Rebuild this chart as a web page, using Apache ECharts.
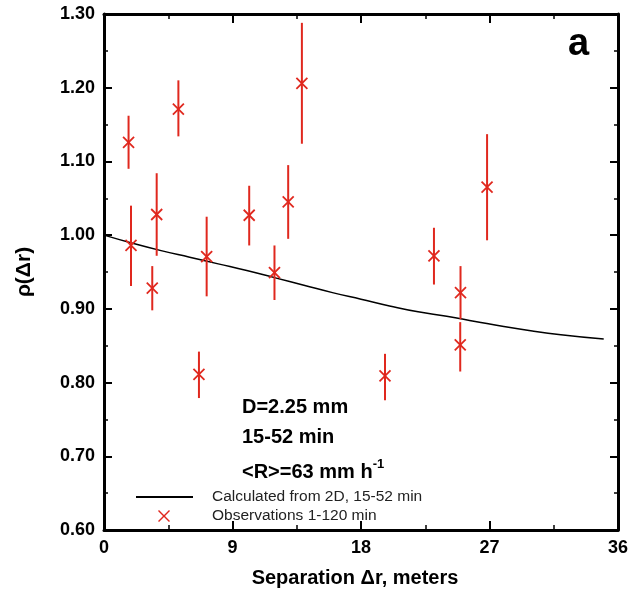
<!DOCTYPE html>
<html>
<head>
<meta charset="utf-8">
<script src="https://cdn.jsdelivr.net/npm/echarts@6/dist/echarts.min.js"></script>
<style>
html,body{margin:0;padding:0;background:#fff;}
#chart{width:643px;height:594px;}
</style>
</head>
<body>
<div id="chart"></div>
<script>
// ---- data ----
var obsX    = [1.72, 1.89, 3.38, 3.69, 5.21, 6.65, 7.19, 10.17, 11.94, 12.9, 13.86, 19.68, 23.11, 24.97, 24.95, 26.83];
var obsY    = [1.126, 0.986, 0.928, 1.028, 1.171, 0.811, 0.971, 1.027, 0.949, 1.045, 1.206, 0.809, 0.972, 0.922, 0.851, 1.065];
var obsLow  = [1.090, 0.931, 0.898, 0.972, 1.134, 0.779, 0.917, 0.986, 0.912, 0.995, 1.124, 0.776, 0.933, 0.886, 0.815, 0.993];
var obsHigh = [1.162, 1.040, 0.958, 1.084, 1.210, 0.842, 1.025, 1.067, 0.986, 1.095, 1.288, 0.839, 1.010, 0.958, 0.882, 1.137];

var curveX = [0, 2, 4, 6, 8, 10, 12, 14, 16, 18, 20, 22, 24, 26, 28, 30, 32, 35];
var curveY = [1.000, 0.989, 0.979, 0.970, 0.961, 0.952, 0.942, 0.932, 0.922, 0.913, 0.904, 0.896, 0.890, 0.883, 0.876, 0.870, 0.865, 0.859];

var xTickLabels = ['0', '9', '18', '27', '36'];
var yTickLabels = ['0.60', '0.70', '0.80', '0.90', '1.00', '1.10', '1.20', '1.30'];

var lineName = 'Calculated from 2D, 15-52 min';
var obsName = 'Observations 1-120 min';
var annotations = ['D=2.25 mm', '15-52 min', '<R>=63 mm h', '-1'];

var RED = '#e0281e';
var FONT = '"Liberation Sans", Arial, sans-serif';

var chart = echarts.init(document.getElementById('chart'));

var obsData = obsX.map(function (x, i) { return [x, obsY[i], obsLow[i], obsHigh[i]]; });
var curveData = curveX.map(function (x, i) { return [x, curveY[i]]; });

var axisLineCommon = { show: true, onZero: false, lineStyle: { color: '#000', width: 3 } };
function ticks(len) { return { show: true, inside: true, length: len, lineStyle: { color: '#000', width: 2 } }; }
function minor(len) { return { show: true, splitNumber: 2, length: len, lineStyle: { color: '#000', width: 1.5 } }; }

var option = {
  animation: false,
  backgroundColor: '#fff',
  grid: { left: 104, right: 25, top: 14, bottom: 64, containLabel: false, outerBoundsMode: 'none' },
  xAxis: [{
    type: 'value', min: 0, max: 36, interval: 9,
    axisLine: axisLineCommon, axisTick: ticks(9), minorTick: minor(5), splitLine: { show: false },
    axisLabel: {
      margin: 9, color: '#000', fontFamily: FONT, fontWeight: 'bold', fontSize: 18,
      formatter: function (v) { var i = xTickLabels.indexOf(String(v)); return i >= 0 ? xTickLabels[i] : ''; }
    },
    name: 'Separation \u0394r, meters', nameLocation: 'middle', nameGap: 38,
    nameTextStyle: { color: '#000', fontFamily: FONT, fontWeight: 'bold', fontSize: 20, padding: [0, 12, 0, 0] }
  }, {
    type: 'value', min: 0, max: 36, interval: 9, position: 'top',
    axisLine: axisLineCommon, axisTick: ticks(9), minorTick: minor(5), splitLine: { show: false }, axisLabel: { show: false }
  }],
  yAxis: [{
    type: 'value', min: 0.6, max: 1.3, interval: 0.1,
    axisLine: axisLineCommon, axisTick: ticks(8), minorTick: minor(4), splitLine: { show: false },
    axisLabel: {
      margin: 9, color: '#000', fontFamily: FONT, fontWeight: 'bold', fontSize: 18,
      formatter: function (v) { var s = v.toFixed(2); return yTickLabels.indexOf(s) >= 0 ? s : ''; }
    },
    name: '\u03c1(\u0394r)', nameLocation: 'middle', nameGap: 69, nameRotate: 90,
    nameTextStyle: { color: '#000', fontFamily: FONT, fontWeight: 'bold', fontSize: 21 }
  }, {
    type: 'value', min: 0.6, max: 1.3, interval: 0.1, position: 'right',
    axisLine: axisLineCommon, axisTick: ticks(8), minorTick: minor(4), splitLine: { show: false }, axisLabel: { show: false }
  }],
  legend: [{
    data: [{ name: lineName, icon: 'rect' }],
    left: 136, top: 489, padding: 0, itemWidth: 57, itemHeight: 2,
    textStyle: { color: '#222', fontFamily: FONT, fontSize: 15.5, padding: [0, 0, 0, 14] }
  }, {
    data: [{ name: obsName, icon: 'path://M1,0 L6,5 L11,0 L12,1 L7,6 L12,11 L11,12 L6,7 L1,12 L0,11 L5,6 L0,1 Z' }],
    left: 158, top: 508, padding: 0, itemWidth: 12, itemHeight: 12,
    textStyle: { color: '#222', fontFamily: FONT, fontSize: 15.5, padding: [0, 0, 0, 37] }
  }],
  graphic: [
    { type: 'text', left: 568, top: 26, style: { text: 'a', font: 'bold 38px ' + FONT, fill: '#000' } },
    { type: 'text', left: 242, top: 397, style: { text: annotations[0], font: 'bold 20px ' + FONT, fill: '#000' } },
    { type: 'text', left: 242, top: 427, style: { text: annotations[1], font: 'bold 20px ' + FONT, fill: '#000' } },
    { type: 'text', left: 242, top: 458, style: {
        text: '{m|' + annotations[2] + '}{s|' + annotations[3] + '}',
        rich: { m: { font: 'bold 20px ' + FONT, fill: '#000', verticalAlign: 'bottom' },
                s: { font: 'bold 13px ' + FONT, fill: '#000', verticalAlign: 'top', padding: [0, 0, 11, 0] } } } }
  ],
  series: [{
    name: lineName, type: 'line', data: curveData, smooth: true, showSymbol: false,
    lineStyle: { color: '#000', width: 1.5 }, itemStyle: { color: '#000' }, z: 2
  }, {
    name: obsName, type: 'custom', data: obsData, itemStyle: { color: RED }, z: 3,
    renderItem: function (params, api) {
      var p = api.coord([api.value(0), api.value(1)]);
      var lo = api.coord([api.value(0), api.value(2)]);
      var hi = api.coord([api.value(0), api.value(3)]);
      var s = 5.5;
      return { type: 'group', children: [
        { type: 'line', shape: { x1: p[0], y1: hi[1], x2: p[0], y2: lo[1] }, style: { stroke: RED, lineWidth: 2 } },
        { type: 'line', shape: { x1: p[0] - s, y1: p[1] - s, x2: p[0] + s, y2: p[1] + s }, style: { stroke: RED, lineWidth: 1.8 } },
        { type: 'line', shape: { x1: p[0] - s, y1: p[1] + s, x2: p[0] + s, y2: p[1] - s }, style: { stroke: RED, lineWidth: 1.8 } }
      ] };
    }
  }]
};
chart.setOption(option);
</script>
</body>
</html>
